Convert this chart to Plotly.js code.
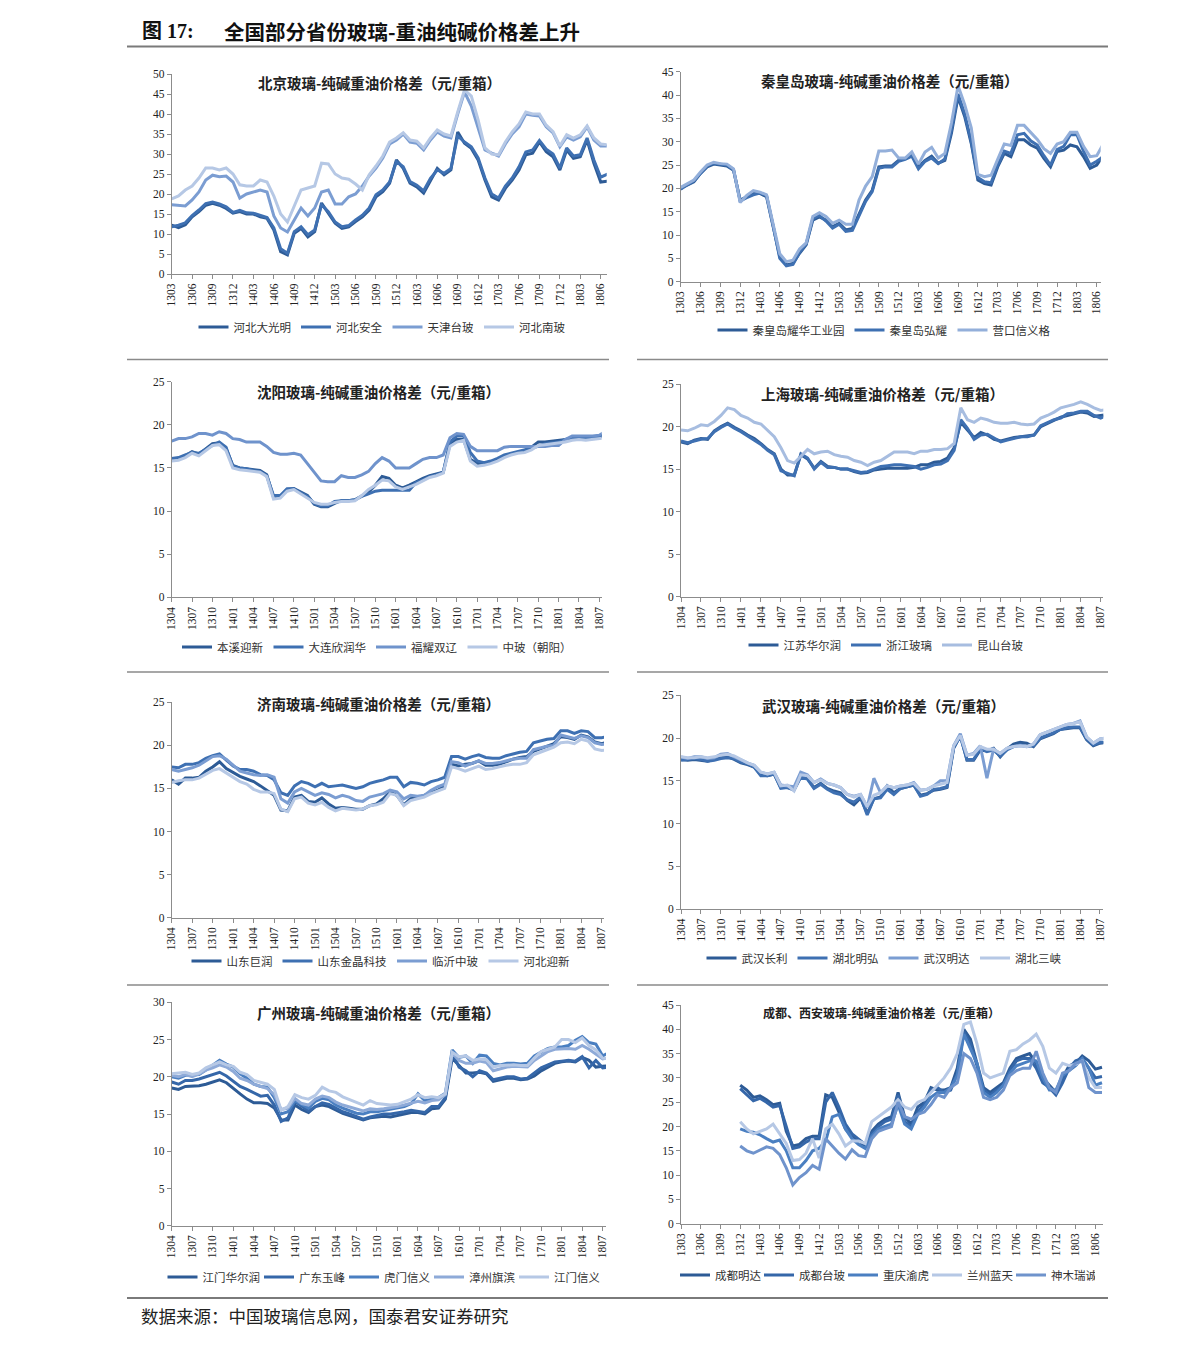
<!DOCTYPE html>
<html>
<head>
<meta charset="utf-8">
<script src="https://cdn.plot.ly/plotly-3.0.1.min.js"></script>
<style>html,body{margin:0;padding:0;background:#fff;}#chart{width:1191px;height:1346px;}</style>
</head>
<body>
<div id="chart"></div>
<script>
// ---------- month categories & tick labels ----------
const monthsA = ['1303','1304','1305','1306','1307','1308','1309','1310','1311','1312',
 '1401','1402','1403','1404','1405','1406','1407','1408','1409','1410','1411','1412',
 '1501','1502','1503','1504','1505','1506','1507','1508','1509','1510','1511','1512',
 '1601','1602','1603','1604','1605','1606','1607','1608','1609','1610','1611','1612',
 '1701','1702','1703','1704','1705','1706','1707','1708','1709','1710','1711','1712',
 '1801','1802','1803','1804','1805','1806','1807'];
const monthsB = ['1304','1305','1306','1307','1308','1309','1310','1311','1312',
 '1401','1402','1403','1404','1405','1406','1407','1408','1409','1410','1411','1412',
 '1501','1502','1503','1504','1505','1506','1507','1508','1509','1510','1511','1512',
 '1601','1602','1603','1604','1605','1606','1607','1608','1609','1610','1611','1612',
 '1701','1702','1703','1704','1705','1706','1707','1708','1709','1710','1711','1712',
 '1801','1802','1803','1804','1805','1806','1807','1808'];
const ticksA = ['1303','1306','1309','1312','1403','1406','1409','1412','1503','1506','1509','1512',
 '1603','1606','1609','1612','1703','1706','1709','1712','1803','1806'];
const ticksB = ['1304','1307','1310','1401','1404','1407','1410','1501','1504','1507','1510',
 '1601','1604','1607','1610','1701','1704','1707','1710','1801','1804','1807'];

// ---------- 北京 ----------
const bjNames = ['河北大光明','河北安全','天津台玻','河北南玻'];
const bjDaguangming = [12.2,11.6,12.3,14.3,15.6,17.2,17.7,17.2,16.4,15.2,
 15.6,15,15,14.3,13.9,11,5.6,4.8,10.2,11.4,
 9.3,10.6,17.7,15.2,12.7,11.4,11.8,13.1,14.3,16,
 19.3,20.6,22.7,28.5,26.4,22.7,21.8,20.2,23.5,26.4,
 24.8,26,35.5,32.7,31.4,28.5,23.5,19.3,18.5,21.4,
 23.5,26,29.8,30.2,33,30.6,29.3,26,31,28.9,
 29.3,33.5,27.7,23,23.2];
const bjAnquan = [11.8,12.2,12.8,14.6,16,17.6,18,17.5,16.8,15.4,
 15.9,15.3,15.2,14.6,14.1,11.5,6.3,5.2,10.6,11.8,
 9.8,11,17.3,15.6,13,11.8,12.1,13.5,14.7,16.5,
 19.8,21,23,28.1,26.8,23.1,22.2,20.8,23.9,26,
 25.2,26.4,34.5,33,31.8,29,24,20,19,22,
 24,26.8,30.5,31,33.4,31.2,30,26.5,31.5,29.5,
 29.8,34,28.5,24.2,25];
const bjTianjin = [17.3,17.2,17,18.5,20.5,23.5,24.7,24.3,24.5,23,
 19,20,20.5,21,20.5,14.5,11.5,10.5,13.5,16.5,
 14.5,16.5,20.5,21,17.5,17.5,19.3,20,22,24.5,
 26.5,29,32.5,33.5,35,33,32.7,31,33.5,35.5,
 34.5,34,40,45.5,42,36.5,31,30.2,29.5,32.5,
 35,36.8,40,39.7,39.5,36.8,35.3,31.8,34.3,33.5,
 34.3,36.8,33.5,32,32];
const bjNanbo = [18.8,19.5,21,22,24,26.5,26.5,26,26.5,25,
 22.3,22,22,23.5,23,19.5,15,13,17,21,
 21.5,22,27.7,27.5,25,24,23.7,22.5,21,24.8,
 27,29.5,33,34,35.3,33.5,33.2,31.5,34,36,
 35,34.5,40.5,46,44.5,38.5,31.5,30,29.8,33,
 35.5,37.5,40.5,40,40,37.2,35.6,32,34.8,34,
 34.8,37,34,32.5,32.3];

// ---------- 秦皇岛 ----------
const qhdNames = ['秦皇岛耀华工业园','秦皇岛弘耀','营口信义格'];
const qhdYaohua = [20,20.7,21.4,23.2,24.6,25.2,25,24.8,23.9,17.5,
 18.2,18.9,18.9,18.2,11.8,5.4,3.6,3.9,6.1,7.9,
 13.2,13.9,13.2,11.8,12.5,11.1,11.4,14.6,17.5,19.6,
 24.6,24.8,24.8,26,26.4,27.1,24.6,26,26.9,25.4,
 26,31.8,39.6,35.4,29.6,21.8,21,20.7,24.6,27.5,
 26.8,30.4,30.4,29.3,28.6,26.4,24.6,27.9,28.2,29.3,
 28.9,26.8,24.3,25,27.1];
const qhdHongyao = [19.8,20.8,21.6,23.3,24.8,25.4,25.2,25,24,17.3,
 18,18.6,19,18.5,12,5,3.4,3.7,6.3,8.1,
 13.5,14.2,13,11.5,12.3,10.8,11,14.2,17.2,19.3,
 24.3,24.6,24.6,25.8,26.2,26.9,24.2,25.8,26.5,25.3,
 26.3,32.5,40.2,36,30,22.3,21.4,21.2,25,28,
 27.5,31.5,31.8,30.2,29.3,27,25,28.3,29,31.5,
 31.5,28,25,25.8,26.8];
const qhdYingkou = [20.2,21,21.8,23.5,25,25.6,25.3,25.2,24.2,17,
 18.5,19.5,19.2,18.6,12.5,6,4.3,4.6,7,8.3,
 14,14.8,14,12.5,13.2,12.3,12.3,17.5,20.5,22.5,
 28,28,28.2,26.5,26.5,27.8,25.2,27.8,28.8,26.5,
 27.5,34,42,38,33,23,22.5,22.8,26.2,29.5,
 29.2,33.5,33.5,32,30.5,28.5,27.5,29.5,30,32,
 32,29,26.8,27,29.5];

// ---------- 沈阳 ----------
const syNames = ['本溪迎新','大连欣润华','福耀双辽','中玻（朝阳）'];
const syBenxi = [16,16.1,16.4,16.9,16.6,17.2,17.8,17.9,17.3,15.3,
 15,14.9,14.8,14.7,14.2,11.6,11.7,12.5,12.6,12.2,
 11.8,10.8,10.5,10.5,10.9,11.2,11.2,11.3,11.8,12.2,
 13,14,13.8,13,12.7,13,13.4,13.8,14.1,14.3,
 14.5,17.8,18.3,18.3,16,15.5,15.6,15.7,16,16.4,
 16.6,16.8,17,17.4,18,18,18.1,18.2,18.3,18.4,
 18.6,18.4,18.5,18.6,18.7];
const syDalian = [16.1,16.2,16.5,16.8,16.7,17.2,17.6,18,17.4,15.2,
 15,14.9,14.7,14.6,14.1,11.8,11.8,12.6,12.6,12.1,
 11.7,10.9,10.6,10.6,11.1,11.2,11.2,11.3,11.7,12,
 12.3,12.4,12.4,12.4,12.4,12.4,13.3,13.6,14,14.2,
 14.5,18,18.7,18.7,16.8,15.8,15.6,15.8,16.1,16.5,
 16.7,16.9,17.1,17.3,17.5,17.8,17.9,18,18.3,18.5,
 18.6,18.5,18.6,18.7,19];
const syFuyao = [18.1,18.4,18.4,18.6,19,19,18.8,19.2,19,18.4,
 18.3,18,18,18,17.5,16.8,16.6,16.6,16.7,16.5,
 15.5,14.5,13.5,13.4,13.4,14.1,13.9,13.9,14.2,14.6,
 15.5,16.2,15.8,15,15,15,15.5,16,16.2,16.2,
 16.5,18.5,19,18.9,17.5,17,17,17,17,17.4,
 17.5,17.5,17.5,17.5,17.5,17.5,17.6,17.6,18.3,18.7,
 18.7,18.7,18.7,18.8,19.3];
const syZhongbo = [15.8,15.9,16.2,16.7,16.4,17,17.6,17.7,17,15,
 14.8,14.7,14.6,14.5,14,11.4,11.5,12.3,12.5,12,
 11.5,11,10.8,10.8,11,11.1,11.1,11.2,11.8,12.5,
 13,13.6,13.5,12.8,12.5,12.8,13.1,13.5,13.9,14.1,
 14.4,17.5,18,18.2,15.8,15.2,15.3,15.5,15.8,16.2,
 16.5,16.7,16.8,17.1,17.6,17.7,17.8,17.9,18,18.2,
 18.3,18.2,18.3,18.4,18.5];

// ---------- 上海 ----------
const shNames = ['江苏华尔润','浙江玻璃','昆山台玻'];
const shJiangsu = [18.2,18,18.4,18.6,18.5,19.5,20,20.4,19.9,19.5,
 19,18.6,18,17.3,16.8,15,14.3,14.3,16.7,16.2,
 15.1,15.9,15.3,15.2,15,15,14.7,14.5,14.6,14.9,
 15,15.1,15.1,15.1,15.1,15.2,15.5,15.5,15.8,15.9,
 16.3,17.5,20.5,19.6,18.7,19.3,19,18.5,18.3,18.5,
 18.7,18.8,18.9,19,20,20.4,20.7,21.1,21.3,21.5,
 21.7,21.6,21.2,21.3,21.4];
const shZhejiang = [18.3,18.1,18.3,18.5,18.6,19.4,19.9,20.3,19.8,19.4,
 18.9,18.4,17.9,17.2,16.7,14.8,14.5,14.2,16.8,16.3,
 15,15.8,15.2,15.2,15,15,14.8,14.6,14.7,15,
 15.3,15.4,15.5,15.5,15.4,15.3,15,15.2,15.5,15.6,
 16,17.2,20.8,19.8,18.5,19,19.1,18.6,18.2,18.4,
 18.6,18.8,18.8,19,20.1,20.5,20.8,21,21.5,21.6,
 21.8,21.8,21.3,21,21.3];
const shKunshan = [19.6,19.5,19.8,20.2,20.1,20.6,21.3,22.2,22,21.3,
 21,20.5,20.3,19.5,18.8,17.5,16,15.7,16.5,17.3,
 16.8,17,17.1,16.7,16.5,16.4,16,15.8,15.4,15.8,
 16,16.5,17,17,17,16.8,17.1,17.1,17.3,17.3,
 17.4,18,22.2,20.8,20.5,21,20.8,20.5,20.4,20.4,
 20.5,20.3,20.2,20.3,21,21.3,21.7,22.2,22.4,22.6,
 22.9,22.6,22.2,21.9,22];

// ---------- 济南 ----------
const jnNames = ['山东巨润','山东金晶科技','临沂中玻','河北迎新'];
const jnJurun = [16,15.5,16.2,16.2,16.3,17,17.5,18.1,17.3,16.8,
 16.4,16.1,15.8,15.3,14.8,14.2,12.5,12.4,14,14.2,
 13.5,13.4,13.9,13.2,12.7,12.8,12.7,12.6,12.6,13,
 13.2,13.8,14.6,14.2,13.1,13.8,13.9,14.2,14.5,14.8,
 15.3,17.8,17.6,17.8,17.9,18.2,17.7,17.7,17.8,18.1,
 18.4,18.6,18.7,19.3,19.6,19.9,20.2,21,20.9,20.7,
 21.2,21,20.4,20.2,20.4];
const jnJinjing = [17.5,17.4,17.8,17.8,18,18.5,18.8,19,18.3,17.6,
 17.2,17.2,17,16.6,16.5,16,14.5,14.2,15.3,15.8,
 15.6,15.2,15.6,15.2,15.3,15.4,15.2,15,15.2,15.6,
 15.8,16,16.3,16.3,15.2,15.7,15.6,15.4,15.8,16,
 16.3,18.7,18.7,18.4,18.7,18.9,18.6,18.5,18.5,18.8,
 19,19.2,19.3,20.3,20.5,20.7,20.8,21.7,21.7,21.4,
 21.7,21.6,20.9,20.9,21];
const jnLinyi = [17.2,17,17.2,17.4,17.7,18.2,18.7,18.8,18.4,17.7,
 17,16.8,16.6,16.5,16.6,16.3,13.8,13.3,14.6,15,
 14.6,14.2,14.5,14.3,13.9,14.2,14,13.6,13.5,14,
 14.2,14.4,14.8,14.6,13.8,14.2,14.1,14.2,14.8,15.2,
 15.5,18.1,18,17.6,17.9,18.2,17.9,17.9,18,18.2,
 18.4,18.5,18.5,19.5,19.7,19.9,20,21.2,21,20.8,
 21.1,20.9,20.3,20.1,20.2];
const jnYingxin = [15.7,15.9,16,16,16.2,16.7,17.1,17.3,16.8,16.2,
 15.8,15.5,14.9,14.6,14.6,14.4,12.6,12.3,13.8,14,
 13.3,13.1,13.4,12.8,12.4,12.7,12.6,12.5,12.6,13,
 13.1,13.4,14.4,14.2,13,13.6,13.8,14,14.4,14.7,
 15,17.5,17.3,17,17.3,17.6,17.2,17.3,17.5,17.7,
 17.8,17.8,18,18.9,19.2,19.5,19.8,20.3,20.4,20.2,
 20.7,20.5,19.6,19.4,19.5];

// ---------- 武汉 ----------
const whNames = ['武汉长利','湖北明弘','武汉明达','湖北三峡'];
const whChangli = [17.5,17.4,17.5,17.4,17.3,17.5,17.7,17.8,17.5,17.1,
 16.9,16.6,15.7,15.6,15.8,14.2,14.2,14,15.5,15.3,
 14.2,14.7,14.1,13.8,13.6,12.7,12.2,13,11.2,12.9,
 13.1,14.4,13.6,14.1,14.3,14.5,13.3,13.5,13.9,14,
 14.2,18.8,20.3,17.4,17.4,18.6,18.5,18.8,17.8,18.7,
 19.3,19.5,19.4,19,19.9,20.2,20.5,21,21.1,21.2,
 21.2,19.8,19.1,19.4,19.5];
const whMinghong = [17.4,17.5,17.6,17.5,17.3,17.4,17.6,17.7,17.6,17.2,
 17,16.6,15.6,15.6,15.8,14.1,14.2,13.9,15.4,15.2,
 14.1,14.6,14,13.6,13.4,12.8,12.5,13.1,11,12.9,
 13,14,13.4,14.1,14.3,14.5,13.2,13.4,14,14.1,
 14.3,18.9,20.2,17.5,17.5,18.8,18.4,18.6,17.9,18.6,
 19,19.2,19,19.1,20,20.3,20.6,21,21.2,21.3,
 21.3,19.9,19.2,19.5,19.5];
const whMingda = [17.8,17.6,17.8,17.8,17.6,17.7,18.1,18.2,17.8,17.4,
 17.1,16.8,16,15.8,16,14.5,14.4,14.3,16,15.7,
 14.8,15.2,14.7,14.5,14.2,13.4,13.2,13.4,11.9,15.3,
 13.6,14.4,14.2,14.4,14.5,14.8,13.9,14,14.4,15,
 15,19.1,20.5,18,18.2,19.1,15.3,18.7,18.2,18.8,
 19,19.1,19,19.3,20.4,20.7,21,21.3,21.6,21.7,
 22,20.1,19.4,19.9,20];
const whSanxia = [17.8,17.7,17.7,17.8,17.7,17.8,18,18.1,17.9,17.5,
 17.1,16.8,16,15.8,16,14.4,14.5,13.8,15.7,15.6,
 14.8,15.1,14.7,14.5,14.2,13.4,13.1,13.4,12,13.3,
 13.6,14.4,14.2,14.4,14.5,14.7,13.9,14,14.4,14.6,
 14.8,19.1,20.3,18,18.1,19,18.7,18.7,18.2,18.8,
 19,19.1,19,19.3,20.4,20.7,21,21.3,21.6,21.7,
 21.9,20.1,19.4,19.9,20];

// ---------- 广州 ----------
const gzNames = ['江门华尔润','广东玉峰','虎门信义','漳州旗滨','江门信义'];
const gzHuaerrun = [18.5,18.3,18.7,18.7,18.8,19,19.3,19.6,19.2,18.4,
 17.7,17,16.5,16.5,16.4,15.8,14.2,14.2,16.2,15.6,
 15.2,16,16.2,16,15.5,15.1,14.8,14.5,14.2,14.5,
 14.6,14.7,14.6,14.8,15,15.2,15.2,15,15.7,15.8,
 17,22.5,21.5,20.5,20.5,20.6,20.4,19.4,19.6,19.8,
 19.8,19.6,19.7,20.1,20.8,21.3,21.8,22,22.1,22,
 22.6,22.2,21.3,21.4,21.5];
const gzYufeng = [19.3,19,19.5,19.5,19.7,20,20.3,20.6,20.1,19.4,
 18.7,18.3,17.8,17.4,17.5,16.2,14,14.5,16.7,16,
 15.4,16,16.5,16.3,15.8,15.3,15,14.7,14.3,14.6,
 14.8,15,15,15.1,15.3,15.5,15.4,15.2,16,16,
 17.2,23.2,21.3,20.8,20,20.8,20.5,19.6,19.8,20,
 20,19.7,19.8,20.5,21.2,21.6,22,22.1,22.2,22.1,
 22.7,21.2,22.2,21.2,21.3];
const gzHumen = [20,19.8,20.2,20.2,20.3,20.9,21.6,22.2,21.7,21.3,
 20.4,19.8,19,18.7,18.6,17.2,15,15.3,16.8,16.3,
 15.8,16.7,17.1,16.9,16.2,15.8,15.5,15.1,15,15.3,
 15.3,15.5,15.7,15.8,16,16.4,17.7,16.8,17,17.2,
 17.8,23.6,22.6,22.8,21.8,22.9,22.8,21.8,21.6,21.8,
 21.8,21.7,21.8,22.8,23.3,23.8,24,24,24.2,24.9,
 25.4,24.6,24.4,22.8,23.3];
const gzZhangzhou = [20.2,20,20.3,20,20.4,20.9,21.2,21.6,21.3,20.7,
 19.8,19.5,19,18.7,18.4,17.6,15.6,15.8,17.1,16.4,
 16.2,17,17.4,17.2,16.6,16.2,15.9,15.7,15.4,15.7,
 15.6,15.7,15.8,16,16.2,16.5,16.7,16.5,16.8,16.9,
 17.6,23.2,22.2,21.8,21.8,22.1,21.9,20.8,21.1,21.3,
 21.4,21.3,21.3,22.2,22.8,23.4,23.7,23.8,23.8,23.7,
 24.2,23.7,23,22.4,22.6];
const gzJiangmenXinyi = [20.4,20.5,20.6,20.3,20.5,21.2,21.6,22,21.6,21.4,
 20.6,20.3,19.5,19.2,19,18.3,15.5,16,17.6,17.2,
 17,17.5,18.6,18.1,17.9,17.3,16.9,16.6,16.2,16.8,
 16.4,16.3,16.2,16.3,16.6,17,17.6,17.2,17.3,17.2,
 17.7,23.3,22.7,22.8,22.2,22.4,22.3,21.3,21.5,21.6,
 21.6,21.5,21.5,22.5,23.4,23.7,24,25,25,24.6,
 25.2,24.2,23.6,22.5,22.4];

// ---------- 成都、西安 ----------
const cdNames = ['成都明达','成都台玻','重庆渝虎','兰州蓝天','神木瑞诚'];
const cdMingda = [null,null,null,null,null,null,null,null,null,
 28.5,27.5,26,26.3,25.5,24.5,24.8,19,16,16.3,
 17.5,18,18,26.5,26,23,19.5,18,17,16,
 19,20.5,21.5,22,27,22,20.5,24,25,28,
 27.5,27.5,28,32,40,38,33,28,27,28,
 29,32,34,34.5,35,33,30,28.5,27,30,
 32.5,33,34.5,33.5,31.8,32.2];
const cdTaibo = [null,null,null,null,null,null,null,null,null,
 27.8,26.5,25.3,25.8,25,24,24.3,20,15.5,15.8,
 16.8,17.5,17.5,25,27,24,20.5,18.5,17.3,16.3,
 18.5,20,21,21.5,26.5,21,20,23,24.5,27.5,
 28,27,27.5,31,39.5,37,32.5,27.5,26.5,27.5,
 28.5,31.5,33.5,34,34,32,29,28,26.5,29,
 32,33.5,34,32,30,30.3];
const cdYuhu = [null,null,null,null,null,null,null,null,null,
 19.5,19,18.8,18.3,17.5,16.8,17.2,15,11.5,11.5,
 13,15,15.5,17,22,22.5,19.5,17.5,16.3,15.5,
 18,19.5,20,20.5,24.5,20.5,19.5,22.5,24,26,
 27,27,28,30.5,39,36,33,27,26,27,
 28.5,31,32.5,33,33.5,33.5,30,27.5,27.5,30.5,
 31.5,32.5,34,32,28.5,29];
const cdLanzhou = [null,null,null,null,null,null,null,null,null,
 21,19.5,18.5,19,19.5,20.5,18.5,16.5,13,13.2,
 14.5,17.5,13.5,19.5,20.5,18.5,16,17,17,16.5,
 21,22,23,24,25.5,24,23.5,25,25.5,27,
 28.5,30,32,35,41,41.5,37,31,30,30.5,
 31,35.5,35.8,37,37.8,39,36.5,32,31,33,
 32.5,32.8,33.5,30,28,28];
const cdShenmu = [null,null,null,null,null,null,null,null,null,
 16,15,14.5,15.2,15.8,15.5,14.2,11.5,8,9.5,
 10.5,12,11.2,17.5,16,14.5,13.3,15.2,14,13.8,
 17.5,19,19.5,20,25,22,21.5,22.5,23,24.5,
 26.5,26,28,29,35,34,31,26,25.5,26,
 27.5,30.5,31.5,32,32,35.5,31,28,27,31,
 31.5,33,33.5,28,27,27];

// ---------- colours ----------
const C_DARK = '#2d5b96', C_DMED = '#3567a9', C_MED = '#4a7fc1', C_MLIGHT = '#6f93cc',
      C_LMED = '#8eaad8', C_LIGHT = '#b6c8e5';

const W = 1191, H = 1346;
const panels = [
  {title:'北京玻璃-纯碱重油价格差（元/重箱）', months:monthsA, ticks:ticksA, ymax:50,
   names:bjNames, series:[bjDaguangming,bjAnquan,bjTianjin,bjNanbo],
   colors:[C_DARK,'#3e70b2','#7b9dd2',C_LIGHT], box:[171.7,606.7,74,274], xr:63.88, t:[379,82], lg:[382,327], ts:14.5, tight:0},
  {title:'秦皇岛玻璃-纯碱重油价格差（元/重箱）', months:monthsA, ticks:ticksA, ymax:45,
   names:qhdNames, series:[qhdYaohua,qhdHongyao,qhdYingkou],
   colors:[C_DARK,'#3e70b2','#93afda'], box:[680.7,1100.7,71.7,281.7], xr:63.6, t:[889,80], lg:[884,330], ts:14.5, tight:0},
  {title:'沈阳玻璃-纯碱重油价格差（元/重箱）', months:monthsB, ticks:ticksB, ymax:25,
   names:syNames, series:[syBenxi,syDalian,syFuyao,syZhongbo],
   colors:[C_DARK,'#3e70b2',C_MLIGHT,C_LIGHT], box:[171.7,601.7,381.7,597.3], xr:63.35, t:[378,391], lg:[377,647], ts:14.5, tight:0},
  {title:'上海玻璃-纯碱重油价格差（元/重箱）', months:monthsB, ticks:ticksB, ymax:25,
   names:shNames, series:[shJiangsu,shZhejiang,shKunshan],
   colors:[C_DARK,'#3e70b2','#a7bde0'], box:[681,1103.3,384,596.7], xr:63.39, t:[882,393], lg:[886,645], ts:14.5, tight:0},
  {title:'济南玻璃-纯碱重油价格差（元/重箱）', months:monthsB, ticks:ticksB, ymax:25,
   names:jnNames, series:[jnJurun,jnJinjing,jnLinyi,jnYingxin],
   colors:[C_DARK,'#3e70b2','#7b9dd2',C_LIGHT], box:[171.7,604,702.3,917.7], xr:63.34, t:[378,703], lg:[381,961], ts:14.5, tight:0},
  {title:'武汉玻璃-纯碱重油价格差（元/重箱）', months:monthsB, ticks:ticksB, ymax:25,
   names:whNames, series:[whChangli,whMinghong,whMingda,whSanxia],
   colors:[C_DARK,'#3e70b2','#7b9dd2',C_LIGHT], box:[681,1103.3,695.3,909], xr:63.5, t:[883,705], lg:[884,958], ts:14.5, tight:0},
  {title:'广州玻璃-纯碱重油价格差（元/重箱）', months:monthsB, ticks:ticksB, ymax:30,
   names:gzNames, series:[gzHuaerrun,gzYufeng,gzHumen,gzZhangzhou,gzJiangmenXinyi],
   colors:[C_DARK,C_DMED,C_MED,C_LMED,C_LIGHT], box:[171.7,606,1002.3,1225.7], xr:63.48, t:[378,1012], lg:[381,1277], ts:14.5, tight:6},
  {title:'成都、西安玻璃-纯碱重油价格差（元/重箱）', months:monthsA, ticks:ticksA, ymax:45,
   names:cdNames, series:[cdMingda,cdTaibo,cdYuhu,cdLanzhou,cdShenmu],
   colors:[C_DARK,C_DMED,C_MED,C_LIGHT,C_MLIGHT], box:[681,1103.3,1005,1223.7], xr:64.2, t:[881,1012], lg:[885,1275], ts:12, tight:7}
];

const FONT = 'Liberation Serif, "Noto Sans CJK SC", serif';
const CJK = '"Noto Sans CJK SC", "Liberation Serif", sans-serif';
const LEG_SIZE = 11.5;
const traces = [];
const layout = {
  width: W, height: H, margin:{l:0,r:0,t:0,b:0},
  paper_bgcolor:'#fff', plot_bgcolor:'#fff', showlegend:true,
  font:{family:FONT, color:'#222'}, hovermode:false,
  annotations:[], shapes:[]
};

panels.forEach((p, k) => {
  const sfx = k === 0 ? '' : String(k+1);
  const [x0,x1,y0,y1] = p.box;
  p.series.forEach((s, j) => {
    const tr = {
      type:'scatter', mode:'lines', x:p.months, y:s, name:p.names[j],
      xaxis:'x'+sfx, yaxis:'y'+sfx, legend:'legend'+sfx,
      line:{color:p.colors[j], width:3}, connectgaps:false
    };
    if (p.tight) tr.legendwidth = p.names[j].length * LEG_SIZE - p.tight;
    traces.push(tr);
  });
  layout['xaxis'+sfx] = {
    domain:[x0/W, x1/W], anchor:'y'+sfx, type:'category',
    categoryorder:'array', categoryarray:p.months, range:[0, p.xr],
    tickmode:'array', tickvals:p.ticks, ticktext:p.ticks, tickangle:-90,
    ticks:'outside', ticklen:4, tickcolor:'#8c8c8c', showline:true, linecolor:'#8c8c8c', linewidth:1,
    showgrid:false, zeroline:false, tickfont:{family:FONT, size:11.5, color:'#222'}, fixedrange:true
  };
  layout['yaxis'+sfx] = {
    domain:[1-y1/H, 1-y0/H], anchor:'x'+sfx, range:[0,p.ymax], dtick:5, tick0:0,
    ticks:'outside', ticklen:4, tickcolor:'#8c8c8c', showline:true, linecolor:'#8c8c8c', linewidth:1,
    showgrid:false, zeroline:false, tickfont:{family:FONT, size:11.5, color:'#222'}, fixedrange:true
  };
  layout['legend'+sfx] = {
    orientation:'h', x:p.lg[0]/W, y:1-p.lg[1]/H, xanchor:'center', yanchor:'middle',
    bgcolor:'rgba(0,0,0,0)', itemwidth:30, tracegroupgap:0,
    font:{family:CJK, size:LEG_SIZE, color:'#333'}, traceorder:'normal'
  };
  layout.annotations.push({
    xref:'paper', yref:'paper', x:p.t[0]/W, y:1-p.t[1]/H, xanchor:'center', yanchor:'middle',
    text:'<b>'+p.title+'</b>', showarrow:false, font:{family:CJK, size:p.ts, color:'#222'}
  });
});

// header & footer
layout.annotations.push(
  {xref:'paper', yref:'paper', x:140/W, y:1-31/H, xanchor:'left', yanchor:'middle', showarrow:false,
   text:'<b>图 17:</b>', font:{family:FONT, size:20, color:'#111'}},
  {xref:'paper', yref:'paper', x:222/W, y:1-31/H, xanchor:'left', yanchor:'middle', showarrow:false,
   text:'<b>全国部分省份玻璃-重油纯碱价格差上升</b>', font:{family:CJK, size:20.5, color:'#111'}},
  {xref:'paper', yref:'paper', x:139/W, y:1-1315/H, xanchor:'left', yanchor:'middle', showarrow:false,
   text:'数据来源：中国玻璃信息网，国泰君安证券研究', font:{family:CJK, size:17.5, color:'#222'}}
);
function hline(xa, xb, y, w, c){
  layout.shapes.push({type:'line', xref:'paper', yref:'paper', x0:xa/W, x1:xb/W, y0:1-y/H, y1:1-y/H,
    line:{color:c, width:w}});
}
hline(127, 1108, 46.5, 2, '#7a7a7a');
[359.5, 672, 985].forEach(y => { hline(127, 609, y, 1.5, '#8a8a8a'); hline(637, 1108, y, 1.5, '#8a8a8a'); });
hline(127, 1108, 1298, 2, '#7a7a7a');

Plotly.newPlot('chart', traces, layout, {staticPlot:true, displayModeBar:false});
</script>
</body>
</html>
